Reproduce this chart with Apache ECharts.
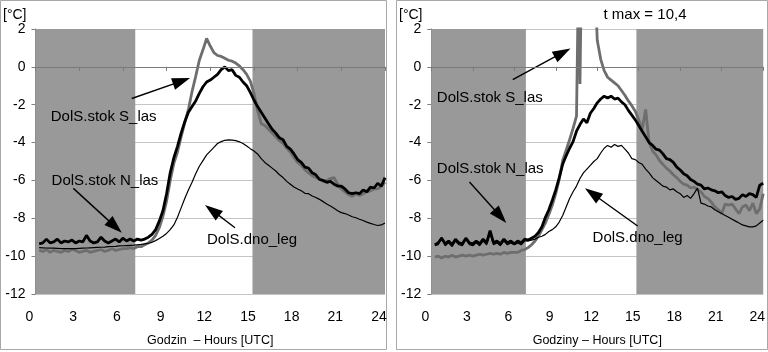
<!DOCTYPE html>
<html><head><meta charset="utf-8">
<script src="https://cdn.jsdelivr.net/npm/echarts@6/dist/echarts.min.js"></script>
<style>html,body{margin:0;padding:0;background:#fff}#c{width:768px;height:352px}</style>
</head><body><div id="c"></div>
<script>
// time of day [h UTC], 15-min steps
const hours = [0.25,0.5,0.75,1,1.25,1.5,1.75,2,2.25,2.5,2.75,3,
 3.25,3.5,3.75,4,4.25,4.5,4.75,5,5.25,5.5,5.75,6,
 6.25,6.5,6.75,7,7.25,7.5,7.75,8,8.25,8.5,8.75,9,
 9.25,9.5,9.75,10,10.25,10.5,10.75,11,11.25,11.5,11.75,12,
 12.25,12.5,12.75,13,13.25,13.5,13.75,14,14.25,14.5,14.75,15,
 15.25,15.5,15.75,16,16.25,16.5,16.75,17,17.25,17.5,17.75,18,
 18.25,18.5,18.75,19,19.25,19.5,19.75,20,20.25,20.5,20.75,21,
 21.25,21.5,21.75,22,22.25,22.5,22.75,23,23.25,23.5,23.75,24];
const xTicks = [0,3,6,9,12,15,18,21,24];
const yTicks = [-12,-10,-8,-6,-4,-2,0,2];

// Left panel
const leftN = [-9.35,-9.3,-9.1,-9.3,-9.25,-9.1,-9.3,-9.2,-9.25,-9.15,-9.3,-9.2,
 -9.25,-8.9,-9.2,-9.3,-9.25,-9.0,-9.2,-9.3,-9.2,-9.1,-9.25,-9.05,
 -9.2,-9.1,-9.2,-9.1,-9.15,-9.1,-9.0,-8.85,-8.6,-8.15,-7.6,-6.7,
 -5.6,-4.8,-4.2,-3.5,-2.9,-2.4,-2.1,-1.8,-1.4,-1.05,-0.8,-0.7,
 -0.55,-0.4,-0.15,0.0,-0.2,-0.15,-0.45,-0.55,-0.8,-1.0,-1.35,-1.75,
 -2.1,-2.4,-2.7,-3.0,-3.3,-3.5,-3.75,-3.85,-4.2,-4.35,-4.6,-4.9,
 -5.05,-5.3,-5.35,-5.6,-5.7,-5.95,-6.0,-6.1,-6.05,-6.2,-6.3,-6.3,
 -6.45,-6.65,-6.7,-6.65,-6.7,-6.5,-6.6,-6.35,-6.4,-6.15,-6.3,-5.85];
const leftS = [-9.7,-9.75,-9.65,-9.8,-9.7,-9.75,-9.8,-9.7,-9.75,-9.65,-9.7,-9.8,
 -9.75,-9.7,-9.8,-9.75,-9.7,-9.65,-9.75,-9.7,-9.6,-9.7,-9.65,-9.6,
 -9.6,-9.55,-9.6,-9.5,-9.5,-9.4,-9.3,-9.15,-8.9,-8.5,-7.9,-7.1,
 -6.0,-5.1,-4.5,-3.7,-2.95,-2.25,-1.3,-0.5,0.35,0.9,1.5,1.1,
 0.75,0.6,0.55,0.45,0.35,0.3,0.2,0.05,-0.15,-0.4,-0.75,-1.4,
 -2.3,-3.0,-3.1,-3.3,-3.5,-3.7,-3.9,-4.05,-4.3,-4.5,-4.8,-5.05,
 -5.2,-5.45,-5.6,-5.75,-5.85,-5.9,-6.05,-6.0,-5.9,-5.85,-6.2,-6.45,
 -6.6,-6.75,-6.85,-6.7,-6.8,-6.7,-6.6,-6.55,-6.45,-6.45,-6.3,-6.1];
const leftD = [-9.55,-9.56,-9.57,-9.58,-9.58,-9.59,-9.6,-9.6,-9.6,-9.6,-9.6,-9.59,
 -9.58,-9.57,-9.56,-9.55,-9.54,-9.53,-9.52,-9.5,-9.49,-9.48,-9.46,-9.45,
 -9.44,-9.43,-9.42,-9.4,-9.38,-9.35,-9.32,-9.27,-9.18,-9.07,-8.95,-8.8,
 -8.6,-8.35,-7.95,-7.45,-6.95,-6.5,-6.1,-5.65,-5.25,-4.95,-4.65,-4.45,
 -4.25,-4.05,-3.95,-3.88,-3.86,-3.87,-3.9,-3.96,-4.05,-4.18,-4.32,-4.45,
 -4.6,-4.85,-5.05,-5.2,-5.35,-5.5,-5.7,-5.85,-6.05,-6.2,-6.35,-6.45,
 -6.55,-6.68,-6.7,-6.82,-6.9,-7.0,-7.12,-7.24,-7.35,-7.47,-7.6,-7.7,
 -7.75,-7.83,-7.92,-7.97,-8.05,-8.12,-8.2,-8.27,-8.33,-8.38,-8.35,-8.25];

// Right panel
const rightN = [-9.4,-9.3,-9.05,-9.35,-9.2,-9.4,-9.1,-9.3,-9.35,-9.05,-9.3,-9.35,
 -9.2,-9.35,-9.1,-9.3,-8.65,-9.3,-9.2,-9.35,-9.1,-9.3,-9.2,-9.35,
 -9.2,-9.3,-9.1,-9.15,-9.05,-8.95,-8.75,-8.45,-7.95,-7.55,-7.05,-6.5,
 -5.85,-5.15,-4.7,-4.3,-3.95,-3.4,-3.05,-2.75,-2.95,-2.45,-2.2,-1.9,
 -1.7,-1.55,-1.65,-1.55,-1.7,-1.65,-1.85,-2.0,-2.3,-2.55,-2.8,-3.1,
 -3.4,-3.7,-4.0,-4.15,-4.35,-4.4,-4.6,-4.85,-4.9,-5.05,-5.3,-5.45,
 -5.65,-5.75,-5.95,-6.05,-6.2,-6.25,-6.45,-6.4,-6.5,-6.55,-6.65,-6.6,
 -6.8,-6.9,-6.85,-7.0,-6.95,-6.75,-6.85,-6.7,-6.75,-6.9,-6.25,-6.15];
const rightS = [-10.05,-10.0,-10.1,-10.0,-10.05,-9.95,-10.05,-10.0,-9.95,-10.0,-9.95,-10.0,
 -9.95,-9.9,-9.95,-9.9,-9.85,-9.9,-9.85,-9.9,-9.8,-9.85,-9.8,-9.8,
 -9.8,-9.7,-9.65,-9.55,-9.4,-9.2,-8.95,-8.6,-8.25,-7.8,-7.3,-6.7,
 -5.95,-4.95,-4.4,-3.85,-3.25,-2.6,-0.9,5.0,8.0,10.4,6.0,1.4,
 0.4,-0.2,-0.55,-0.7,-0.85,-1.0,-1.25,-1.5,-1.8,-2.05,-2.35,-2.8,
 -3.3,-2.25,-4.0,-4.45,-4.65,-4.95,-5.15,-5.35,-5.5,-5.7,-5.85,-6.05,
 -6.2,-6.25,-6.4,-6.35,-6.5,-6.6,-6.85,-6.95,-7.15,-7.4,-7.55,-7.75,
 -7.25,-7.3,-7.25,-7.5,-7.75,-7.4,-7.3,-7.6,-7.2,-7.75,-7.5,-6.7];
// extra readings inside the sharp spike of S_las (right panel)
const rightSExtraHours = [10.6,10.7,10.83];
const rightSExtraValues = [2.6,4.0,3.5];
const rightD = [-9.45,-9.4,-9.0,-9.45,-9.3,-9.5,-9.2,-9.4,-9.45,-9.1,-9.4,-9.45,
 -9.3,-9.45,-9.2,-9.4,-8.8,-9.4,-9.3,-9.45,-9.2,-9.4,-9.3,-9.4,
 -9.3,-9.4,-9.2,-9.2,-9.15,-9.1,-9.0,-8.95,-8.85,-8.7,-8.6,-8.45,
 -8.2,-7.85,-7.4,-6.95,-6.6,-6.3,-5.9,-5.6,-5.4,-5.2,-5.0,-4.85,
 -4.55,-4.3,-4.15,-4.25,-4.1,-4.2,-4.15,-4.35,-4.55,-4.85,-4.9,-5.05,
 -5.15,-5.4,-5.6,-5.85,-6.0,-6.15,-6.3,-6.35,-6.5,-6.45,-6.6,-6.7,
 -6.9,-6.8,-6.95,-6.7,-6.4,-7.2,-7.25,-7.35,-7.4,-7.55,-7.65,-7.75,
 -7.85,-7.95,-8.05,-8.15,-8.25,-8.35,-8.4,-8.45,-8.45,-8.4,-8.25,-8.1];

// night (shaded) periods [h]
const nightLeft = [[0,6.85],[14.9,24]];
const nightRight = [[0,6.84],[14.83,24]];

const seriesNames = ['DolS.stok S_las','DolS.stok N_las','DolS.dno_leg'];
const xNames = ['Godzin  \u2013 Hours [UTC]','Godziny \u2013 Hours [UTC]'];
const yUnit = '[°C]';
const tMaxText = 't max = 10,4';

// annotation anchors in data units [h, °C]
const notes = [
 [ {label:[4.68,-2.64], from:[6.61,-1.67], to:[10.03,-0.75]},
   {label:[4.77,-6.01], from:[2.6,-6.42], to:[5.47,-8.44]},
   {label:[14.87,-9.16], from:[13.7,-8.5], to:[12.13,-7.58]} ],
 [ {label:[4.23,-1.66], from:[5.89,-0.67], to:[9.49,0.75]},
   {label:[4.26,-5.39], from:[2.76,-6.08], to:[4.99,-7.89]},
   {label:[14.92,-9.02], from:[14.92,-8.41], to:[11.64,-6.69]} ]
];

const FONT = '"Liberation Sans", Arial, sans-serif';
function pairs(h, v){ return h.map((x,i)=>[x, v[i]]); }
const rightSData = pairs(hours, rightS).concat(pairs(rightSExtraHours, rightSExtraValues)).sort((a,b)=>a[0]-b[0]);

const grids = [
 {left:35.5, top:29, width:349.5, height:270},
 {left:431.3, top:29, width:336.7, height:270}
];

function xAxes(gi){
 return [
  {gridIndex:gi, type:'value', min:0, max:24, interval:3, position:'bottom',
   axisLine:{show:false,onZero:false}, axisTick:{show:false}, splitLine:{show:false},
   axisLabel:{fontSize:14, color:'#000', margin:16, padding:[0,12,0,0], fontFamily:FONT},
   name:xNames[gi], nameLocation:'middle', nameGap:40,
   nameTextStyle:{fontSize:12.5, color:'#000', fontFamily:FONT}},
  {gridIndex:gi, type:'value', min:0, max:24, interval:3, position:'bottom', z:10,
   axisLine:{show:true, onZero:true, lineStyle:{color:'#7a7a7a', width:1}},
   axisTick:{show:true, length:4, lineStyle:{color:'#7a7a7a'}},
   axisLabel:{show:false}, splitLine:{show:false}}
 ];
}
function yAxis(gi){
 return {gridIndex:gi, type:'value', min:-12, max:2, interval:2,
  axisLine:{show:true, lineStyle:{color:'#808080'}},
  axisTick:{show:true, length:4, lineStyle:{color:'#808080'}},
  axisLabel:{fontSize:14, color:'#000', margin:10, fontFamily:FONT},
  splitLine:{show:true, lineStyle:{color:'#c4c4c4', width:1}}};
}

function panelSeries(gi, sData, nData, dData, night){
 const xi = gi*2, yi = gi;
 const nt = notes[gi];
 return [
  {type:'line', name:seriesNames[0], xAxisIndex:xi, yAxisIndex:yi, data:sData, z:2,
   symbol:'none', showSymbol:false, lineStyle:{color:'#6e6e6e', width:2.8}, silent:true,
   markArea:{silent:true, itemStyle:{color:'#999999', opacity:1},
     data: night.map(r=>[{xAxis:r[0]},{xAxis:r[1]}])}},
  {type:'line', name:seriesNames[2], xAxisIndex:xi, yAxisIndex:yi, data:dData, z:3,
   symbol:'none', showSymbol:false, lineStyle:{color:'#000', width:1.2}, silent:true,
   markLine:{silent:true, symbol:['none','triangle'], symbolSize:[12,18],
     lineStyle:{color:'#000', width:1.4, type:'solid'}, label:{show:false},
     data: nt.map(n=>[{coord:n.from},{coord:n.to}])},
   markPoint:{silent:true, symbol:'rect', symbolSize:1, itemStyle:{color:'rgba(0,0,0,0)'},
     label:{show:true, position:'inside', color:'#000', fontSize:15, fontFamily:FONT, formatter:p=>p.name},
     data: nt.map((n,i)=>({name:seriesNames[i], coord:n.label}))}},
  {type:'line', name:seriesNames[1], xAxisIndex:xi, yAxisIndex:yi, data:nData, z:4,
   symbol:'none', showSymbol:false, lineStyle:{color:'#000', width:2.8}, silent:true}
 ];
}

const chart = echarts.init(document.getElementById('c'));
chart.setOption({
 animation:false,
 backgroundColor:'#fff',
 textStyle:{fontFamily:FONT},
 grid:grids,
 xAxis:[...xAxes(0), ...xAxes(1)],
 yAxis:[yAxis(0), yAxis(1)],
 series:[...panelSeries(0, pairs(hours,leftS), pairs(hours,leftN), pairs(hours,leftD), nightLeft),
         ...panelSeries(1, rightSData, pairs(hours,rightN), pairs(hours,rightD), nightRight)],
 graphic:[
  {type:'rect', silent:true, shape:{x:0.5,y:0.5,width:386,height:349}, style:{fill:null, stroke:'#a8a8a8', lineWidth:1}},
  {type:'rect', silent:true, shape:{x:396.5,y:0.5,width:371,height:349}, style:{fill:null, stroke:'#a8a8a8', lineWidth:1}},
  {type:'text', silent:true, x:3, y:15, style:{text:yUnit, font:'14px '+FONT, fill:'#000', textVerticalAlign:'middle'}},
  {type:'text', silent:true, x:399, y:15, style:{text:yUnit, font:'14px '+FONT, fill:'#000', textVerticalAlign:'middle'}},
  {type:'text', silent:true, x:645, y:15, style:{text:tMaxText, font:'15px '+FONT, fill:'#000', textAlign:'center', textVerticalAlign:'middle'}}
 ]
});
</script></body></html>
